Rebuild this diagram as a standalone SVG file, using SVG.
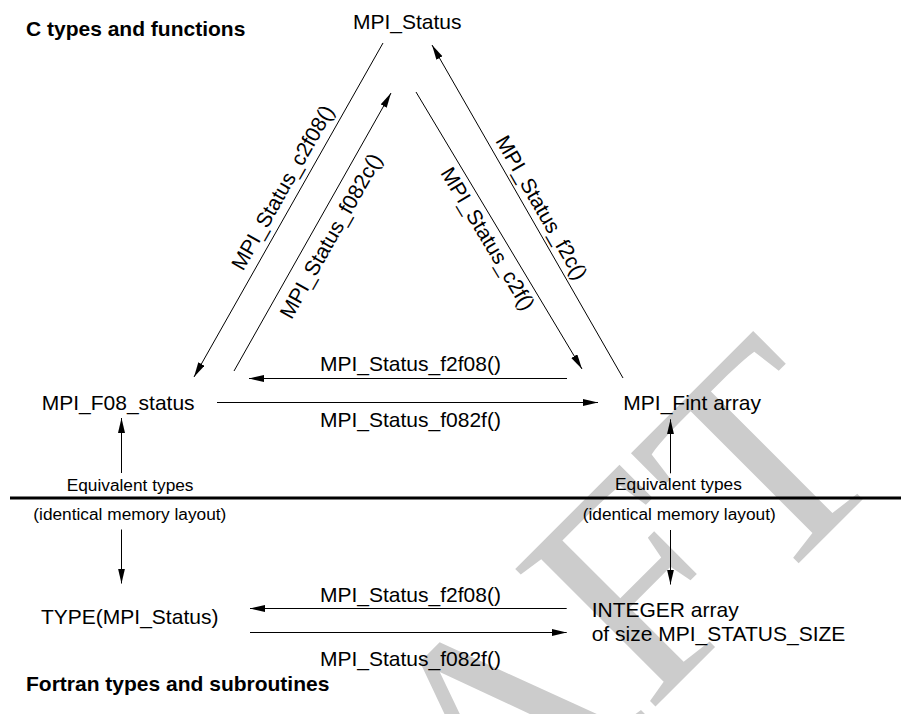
<svg xmlns="http://www.w3.org/2000/svg" width="901" height="714" viewBox="0 0 901 714">
<style>
text{font-family:"Liberation Sans",Arial,Helvetica,sans-serif;fill:#000}
.lbl{font-size:21px}
.small{font-size:17.3px}
.title{font-size:21px;font-weight:bold}
.wm{font-family:"Liberation Serif","Times New Roman",serif;font-size:300px;fill:#cccccc}
.edge{stroke:#000;stroke-width:1;fill:none}
.arr{marker-end:url(#ah)}
.sep{stroke:#000;stroke-width:3}
</style>
<defs>
<marker id="ah" markerUnits="userSpaceOnUse" markerWidth="16" markerHeight="8" refX="15" refY="3.5" orient="auto">
<path d="M0,0 L15,3.5 L0,7 z" fill="#000"/>
</marker>
</defs>
<rect width="901" height="714" fill="#fff"/>
<g id="watermark">
<text class="wm" transform="translate(895.6,466.4) rotate(-45)" text-anchor="end">DRAFT</text>
</g>
<g id="separator">
<line class="sep" x1="10" y1="498" x2="901" y2="498"/>
</g>
<g id="titles">
<text class="title" x="26" y="35.5">C types and functions</text>
<text class="title" x="26" y="691">Fortran types and subroutines</text>
</g>
<g id="n-mpi-status"><text class="lbl" x="353" y="28.5">MPI_Status</text></g>
<g id="n-f08-status"><text class="lbl" x="41.7" y="410">MPI_F08_status</text></g>
<g id="n-fint-array"><text class="lbl" x="623.3" y="410">MPI_Fint array</text></g>
<g id="n-type-status"><text class="lbl" x="41" y="624">TYPE(MPI_Status)</text></g>
<g id="n-integer-array">
<text class="lbl" x="591.7" y="616.7">INTEGER array</text>
<text class="lbl" x="591.7" y="640.5">of size MPI_STATUS_SIZE</text>
</g>
<g id="connectors">
<line class="edge arr" x1="383" y1="43" x2="194" y2="377"/>
<line class="edge arr" x1="234" y1="371" x2="391" y2="93"/>
<line class="edge arr" x1="416" y1="92" x2="582" y2="369"/>
<line class="edge arr" x1="623" y1="378" x2="432" y2="45"/>
<line class="edge arr" x1="567" y1="378.5" x2="249" y2="378.5"/>
<line class="edge arr" x1="217" y1="402.5" x2="598" y2="402.5"/>
<line class="edge arr" x1="121.5" y1="473" x2="121.5" y2="418"/>
<line class="edge arr" x1="121.5" y1="529.5" x2="121.5" y2="583.5"/>
<line class="edge arr" x1="670.5" y1="473.3" x2="670.5" y2="419.3"/>
<line class="edge arr" x1="670.5" y1="530" x2="670.5" y2="584.5"/>
<line class="edge arr" x1="566.7" y1="608.5" x2="250" y2="608.5"/>
<line class="edge arr" x1="250" y1="632.5" x2="566.7" y2="632.5"/>
</g>
<g id="edge-labels">
<text class="lbl" text-anchor="middle" transform="translate(288.8,191.1) rotate(-60.4)">MPI_Status_c2f08()</text>
<text class="lbl" text-anchor="middle" transform="translate(337.1,239.4) rotate(-60.55)">MPI_Status_f082c()</text>
<text class="lbl" text-anchor="middle" transform="translate(481.7,242.3) rotate(59.1)">MPI_Status_c2f()</text>
<text class="lbl" text-anchor="middle" transform="translate(535.3,211.1) rotate(60.2)">MPI_Status_f2c()</text>
<text class="lbl" x="320" y="371">MPI_Status_f2f08()</text>
<text class="lbl" x="320" y="427">MPI_Status_f082f()</text>
<text class="small" x="66.7" y="490.5">Equivalent types</text>
<text class="small" x="33.3" y="520">(identical memory layout)</text>
<text class="small" x="615" y="490">Equivalent types</text>
<text class="small" x="582.7" y="520">(identical memory layout)</text>
<text class="lbl" x="320" y="601.7">MPI_Status_f2f08()</text>
<text class="lbl" x="320" y="665.7">MPI_Status_f082f()</text>
</g>
</svg>
